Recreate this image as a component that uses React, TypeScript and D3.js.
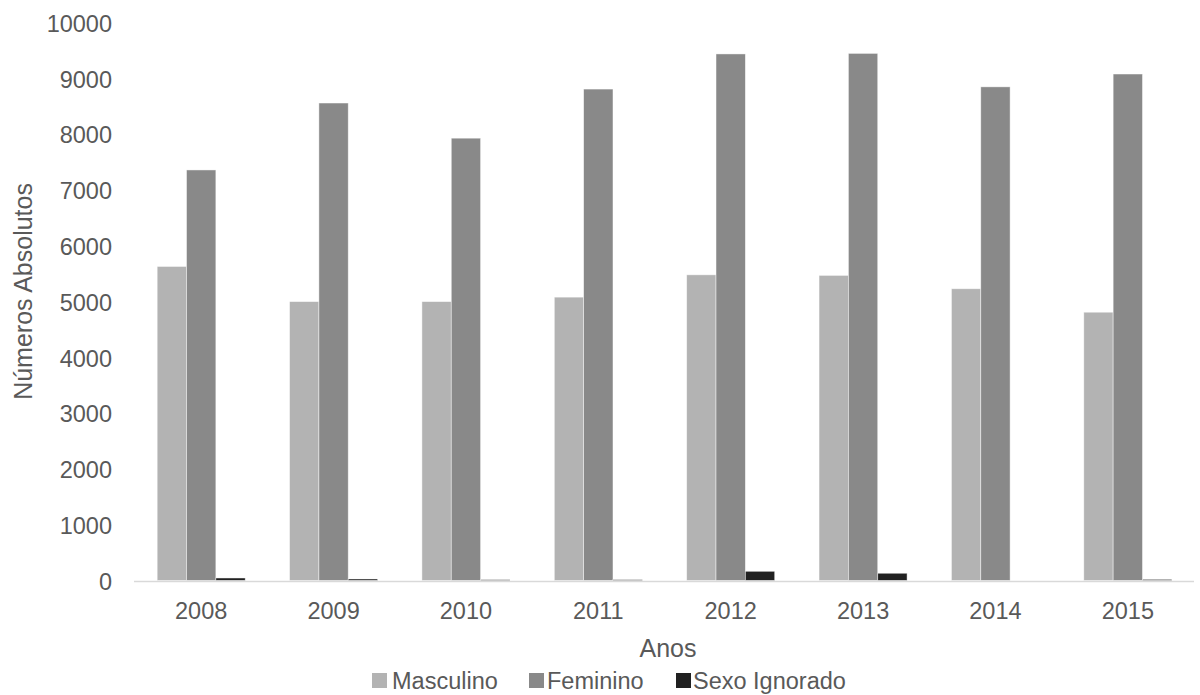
import React from 'react';
import * as d3 from 'd3';

// Data
const years = ['2008', '2009', '2010', '2011', '2012', '2013', '2014', '2015'];
const masculino = [5630, 5000, 5000, 5080, 5480, 5470, 5230, 4810];
const feminino = [7360, 8560, 7930, 8810, 9440, 9450, 8850, 9080];
const sexoIgnorado = [45, 27, 15, 15, 165, 130, 0, 20];
const seriesNames = ['Masculino', 'Feminino', 'Sexo Ignorado'];
const seriesColors = ['#b3b3b3', '#898989', '#212121'];
const yTicks = [0, 1000, 2000, 3000, 4000, 5000, 6000, 7000, 8000, 9000, 10000];

const width = 1200;
const height = 695;
const font = '"Liberation Sans", Arial, Helvetica, sans-serif';
const textColor = '#595959';
const tickSize = 23.5;
const titleSize = 25;

const App = () => {
    const seriesValues = [masculino, feminino, sexoIgnorado];

    // Band scale for the years, inner band for each series
    const x = d3.scaleBand()
        .domain(years)
        .range([135, 1194])
        .paddingInner(0.335)
        .paddingOuter(0.1675);

    const xInner = d3.scaleBand()
        .domain(seriesNames)
        .range([0, x.bandwidth()]);

    const y = d3.scaleLinear()
        .domain([0, 10000])
        .range([581.5, 23.7]);

    const baseline = y(0) - 1;

    return (
        <svg
            width={width}
            height={height}
            style={{ position: 'absolute', left: 0, top: 0, background: '#fff' }}
            fontFamily={font}
        >
            {/* y tick labels */}
            {yTicks.map(t => (
                <text
                    key={t}
                    x={112}
                    y={y(t)}
                    dy="0.35em"
                    textAnchor="end"
                    fontSize={tickSize}
                    fill={textColor}
                >
                    {t}
                </text>
            ))}

            {/* bars */}
            {years.map((yr, i) => (
                <g key={yr} transform={`translate(${x(yr)},0)`}>
                    {seriesNames.map((s, j) => {
                        const v = seriesValues[j][i];
                        if (v <= 0) return null;
                        const top = y(v) - 1;
                        return (
                            <rect
                                key={s}
                                x={xInner(s)}
                                y={top}
                                width={xInner.bandwidth()}
                                height={Math.max(baseline - top, 0)}
                                fill={seriesColors[j]}
                                stroke="#ffffff"
                                strokeOpacity={0.6}
                                strokeWidth={0.75}
                            />
                        );
                    })}
                </g>
            ))}

            {/* x axis line */}
            <line x1={134} x2={1194} y1={y(0)} y2={y(0)} stroke="#d9d9d9" strokeWidth={1.5} />

            {/* x tick labels */}
            {years.map(yr => (
                <text
                    key={yr}
                    x={(x(yr) ?? 0) + x.bandwidth() / 2}
                    y={611}
                    dy="0.35em"
                    textAnchor="middle"
                    fontSize={tickSize}
                    fill={textColor}
                >
                    {yr}
                </text>
            ))}

            {/* axis titles */}
            <text x={668} y={648} dy="0.35em" textAnchor="middle" fontSize={titleSize} fill={textColor}>
                Anos
            </text>
            <text
                transform={`translate(23,${y(5200)}) rotate(-90)`}
                dy="0.35em"
                textAnchor="middle"
                fontSize={titleSize}
                fill={textColor}
            >
                Números Absolutos
            </text>

            {/* legend */}
            {[
                { sx: 372, tx: 392 },
                { sx: 529, tx: 547 },
                { sx: 676, tx: 693 },
            ].map((l, j) => (
                <g key={seriesNames[j]}>
                    <rect x={l.sx} y={673} width={15} height={15} fill={seriesColors[j]} />
                    <text x={l.tx} y={681} dy="0.35em" fontSize={tickSize} fill={textColor}>
                        {seriesNames[j]}
                    </text>
                </g>
            ))}
        </svg>
    );
};

export default App;
